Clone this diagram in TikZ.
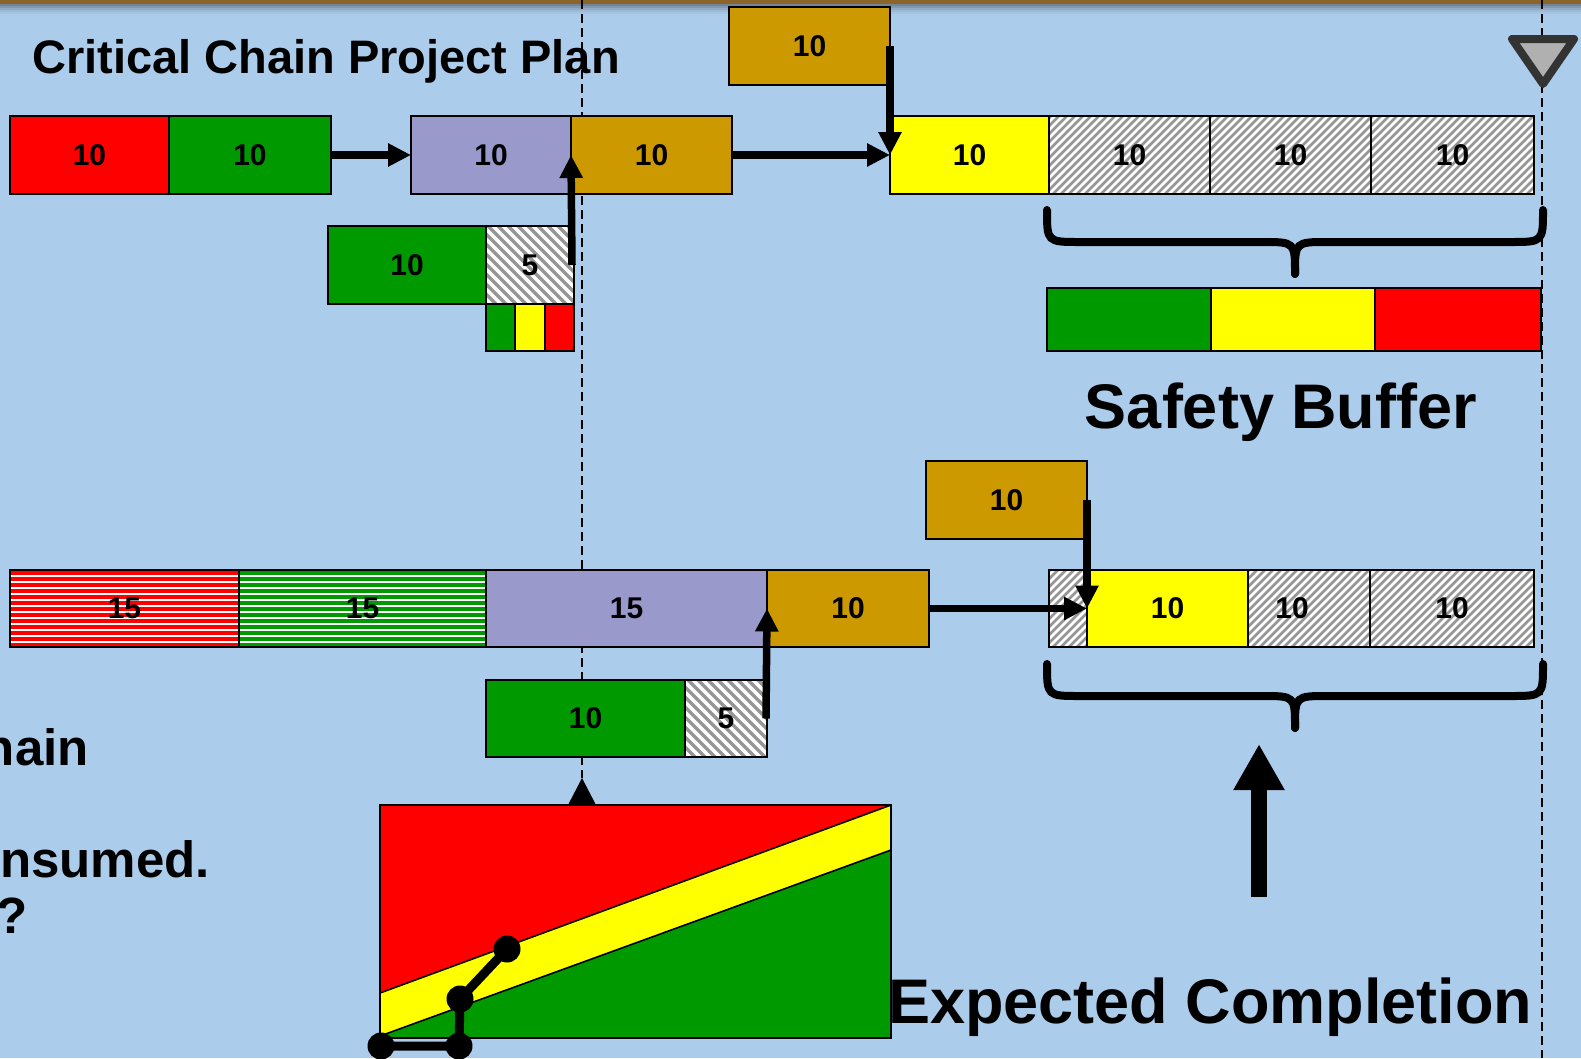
\documentclass[tikz,border=0pt]{standalone}
\usepackage{fontspec}
\setmainfont{Liberation Sans}
\usetikzlibrary{arrows.meta,calc}
\definecolor{bgblue}{RGB}{172,204,235}
\definecolor{cred}{RGB}{255,0,0}
\definecolor{cgreen}{RGB}{0,153,0}
\definecolor{cyellow}{RGB}{255,255,0}
\definecolor{cpurple}{RGB}{153,153,204}
\definecolor{cgold}{RGB}{204,153,0}
\definecolor{hatchgray}{RGB}{150,150,150}
\definecolor{tridark}{RGB}{51,51,51}
\definecolor{trifill}{RGB}{176,176,176}
\definecolor{bandbrown}{RGB}{140,100,40}
\newcommand\numfont{\fontsize{30}{36}\selectfont\bfseries}
\tikzset{
  box/.style={draw=black, line width=2pt, anchor=north west, inner sep=0pt, outer sep=0pt, font=\numfont},
  hatchNE/.style={fill=white, path picture={\foreach \k in {-100,-92,...,180}{\draw[hatchgray,line width=2.6pt] ([xshift=\k pt]path picture bounding box.south west) -- ++(120,-120);}}},
  hatchNW/.style={fill=white, path picture={\foreach \k in {-20,-10,...,200}{\draw[hatchgray,line width=3.2pt] ([xshift=\k pt]path picture bounding box.south west) -- ++(-120,-120);}}},
  stripes/.style={fill=white, path picture={\foreach \k in {3,9,...,81}{\draw[#1,line width=3.4pt] ([yshift=-\k pt]path picture bounding box.north west) -- ++(300,0);}}},
  arr/.style={line width=7.5pt, -{Triangle[length=23pt,width=22pt]}},
  bigarr/.style={line width=16pt, -{Triangle[length=46pt,width=48pt]}},
  brace/.style={line width=8pt, line cap=round},
  dashv/.style={line width=1.8pt, dash pattern=on 9pt off 5pt},
  dot/.style={circle, fill=black, inner sep=0pt, minimum size=27pt},
  bigtext/.style={inner sep=0pt, font=\fontsize{63}{75}\selectfont\bfseries},
  midtext/.style={inner sep=0pt, font=\fontsize{51}{60}\selectfont\bfseries},
}
\begin{document}
\begin{tikzpicture}[x={(1pt,0)}, y={(0,-1pt)}]
\useasboundingbox (0,0) rectangle (1581,1058);
\fill[bgblue] (0,0) rectangle (1581,1058);
% top band
\fill[bandbrown] (0,0) rectangle (1581,4);
\foreach \i/\c in {4/35,6/25,8/16,10/9,12/4} \fill[black!\c!bgblue] (0,\i) rectangle (1581,\i+2);

% title
\node[anchor=base west, inner sep=0pt, font=\fontsize{47}{56}\selectfont\bfseries] (title) at (32,73) {Critical Chain Project Plan};

% dashed time lines
\draw[dashv] (582,0) -- (582,778);
\draw[dashv] (1542,0) -- (1542,1058);

% ---- top plan ----
\node[box, fill=cred,    minimum width=159pt, minimum height=78pt] (r1) at (10,116) {10};
\node[box, fill=cgreen,  minimum width=162pt, minimum height=78pt] (g1) at (169,116) {10};
\node[box, fill=cpurple, minimum width=160pt, minimum height=78pt] (p1) at (411,116) {10};
\node[box, fill=cgold,   minimum width=161pt, minimum height=78pt] (o1) at (571,116) {10};
\node[box, fill=cyellow, minimum width=159pt, minimum height=78pt] (y1) at (890,116) {10};
\node[box, hatchNE, minimum width=161pt, minimum height=78pt] (h1) at (1049,116) {10};
\node[box, hatchNE, minimum width=161pt, minimum height=78pt] (h2) at (1210,116) {10};
\node[box, hatchNE, minimum width=163pt, minimum height=78pt] (h3) at (1371,116) {10};
\node[box, fill=cgold,   minimum width=161pt, minimum height=78pt] (o2) at (729,7) {10};
\node[box, fill=cgreen,  minimum width=158pt, minimum height=78pt] (g2) at (328,226) {10};
\node[box, hatchNW, minimum width=88pt, minimum height=78pt] (hs1) at (486,226) {5};
\node[box, fill=cgreen,  minimum width=29pt, minimum height=47pt] (sq1) at (486,304) {};
\node[box, fill=cyellow, minimum width=30pt, minimum height=47pt] (sq2) at (515,304) {};
\node[box, fill=cred,    minimum width=29pt, minimum height=47pt] (sq3) at (545,304) {};

\draw[arr] (g1.east) -- (p1.west);
\draw[arr] (o1.east) -- (y1.west);
\draw[arr] (o2.east) -- (y1.west);
\draw[arr] ([xshift=-2pt]hs1.east) -- (p1.east);

% safety buffer brace and bar
\draw[brace] (1047,210) .. controls (1047,242) .. (1080,242) -- (1262,242) .. controls (1295,242) .. (1295,274);
\draw[brace] (1543,210) .. controls (1543,242) .. (1510,242) -- (1328,242) .. controls (1295,242) .. (1295,274);
\node[box, fill=cgreen,  minimum width=164pt, minimum height=63pt] (bb1) at (1047,288) {};
\node[box, fill=cyellow, minimum width=164pt, minimum height=63pt] (bb2) at (1211,288) {};
\node[box, fill=cred,    minimum width=166pt, minimum height=63pt] (bb3) at (1375,288) {};
\node[bigtext, anchor=base] (sbuf) at (1281,428) {Safety Buffer};

% ---- lower plan ----
\node[box, stripes=cred,   minimum width=229pt, minimum height=77pt] (s1) at (10,570) {15};
\node[box, stripes=cgreen, minimum width=247pt, minimum height=77pt] (s2) at (239,570) {15};
\node[box, fill=cpurple, minimum width=281pt, minimum height=77pt] (p2) at (486,570) {15};
\node[box, fill=cgold,   minimum width=162pt, minimum height=77pt] (o4) at (767,570) {10};
\node[box, hatchNE, minimum width=38pt, minimum height=77pt] (hb1) at (1049,570) {};
\node[box, fill=cyellow, minimum width=161pt, minimum height=77pt] (y2) at (1087,570) {10};
\node[box, hatchNE, minimum width=122pt, minimum height=77pt, label={[font=\numfont, xshift=-17pt]center:10}] (hb2) at (1248,570) {};
\node[box, hatchNE, minimum width=164pt, minimum height=77pt] (hb3) at (1370,570) {10};
\node[box, fill=cgold,   minimum width=161pt, minimum height=78pt] (o3) at (926,461) {10};
\node[box, fill=cgreen,  minimum width=199pt, minimum height=77pt] (g3) at (486,680) {10};
\node[box, hatchNW, minimum width=82pt, minimum height=77pt] (hs2) at (685,680) {5};

\draw[arr] (o4.east) -- (y2.west);
\draw[arr] (o3.east) -- (y2.west);
\draw[arr] ([xshift=-1pt]hs2.east) -- (p2.east);

\draw[brace] (1047,664) .. controls (1047,696) .. (1080,696) -- (1262,696) .. controls (1295,696) .. (1295,728);
\draw[brace] (1543,664) .. controls (1543,696) .. (1510,696) -- (1328,696) .. controls (1295,696) .. (1295,728);

\coordinate (ea0) at (1259,897);
\coordinate (ea1) at (1259,744);
\draw[bigarr] (ea0) -- (ea1);
\node[bigtext, anchor=base west] (expc) at (888,1023) {Expected Completion};

% left fragments
\node[midtext, anchor=base east] (t1) at (89,765) {hain};
\node[midtext, anchor=base east] (t2) at (210,877) {nsumed.};
\node[midtext, anchor=base east] (t3) at (28,933) {?};

% fever chart
\fill[cred] (380,805) rectangle (891,1038);
\fill[cyellow] (380,993) -- (891,805) -- (891,1038) -- (380,1038) -- cycle;
\fill[cgreen] (380,1036) -- (891,850) -- (891,1038) -- (380,1038) -- cycle;
\draw[line width=1.6pt] (380,993) -- (891,805);
\draw[line width=1.6pt] (380,1036) -- (891,850);
\draw[line width=2pt] (380,805) rectangle (891,1038);
\fill (582,778) -- (596,805) -- (568,805) -- cycle;
\node[dot] (d1) at (381,1046) {};
\node[dot] (d2) at (459,1046) {};
\node[dot] (d3) at (460,999) {};
\node[dot] (d4) at (507,949) {};
\draw[line width=9pt] (d1.center) -- (d2.center) -- (d3.center) -- (d4.center);

% end marker
\draw[tridark, fill=trifill, line width=8pt, line join=round] (1512,39) -- (1574,39) -- (1543,84) -- cycle;
\end{tikzpicture}
\end{document}
